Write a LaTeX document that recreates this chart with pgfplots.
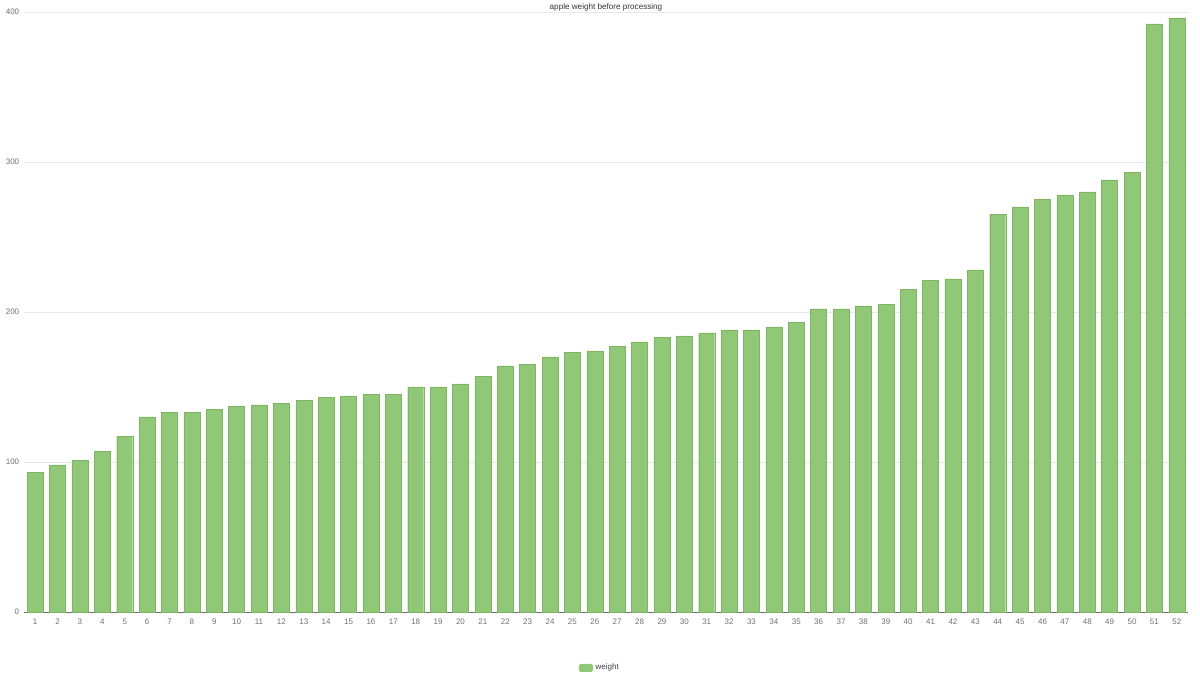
\documentclass[border=0pt]{standalone}
\usepackage{pgfplots}
\pgfplotsset{compat=1.18}
\usepackage{fontspec}
\setmainfont{Liberation Sans}
\definecolor{barg}{HTML}{91C878}
\definecolor{baredge}{HTML}{80B566}
\definecolor{axgray}{HTML}{6E7079}
\definecolor{gridc}{HTML}{E6E8EC}

\begin{document}
\begin{tikzpicture}
\begin{axis}[
    scale only axis, width=873pt, height=450pt,
    ybar, bar width=12pt,
    xmin=0.5, xmax=52.5, ymin=0, ymax=400,
    enlarge x limits=false,
    axis lines*=left,
    axis line style={-, draw=axgray},
    y axis line style={draw=none},
    tick align=outside,
    xtick={1,...,52},
    major x tick style={draw=none},
    extra x ticks={0.5,1.5,...,52.5},
    extra x tick labels={},
    extra x tick style={tick style={draw=axgray, line width=0.4pt}, major tick length=3pt},
    ytick={0,100,200,300,400},
    major y tick style={draw=none},
    ymajorgrids=true,
    grid style={gridc, line width=0.5pt},
    /pgf/number format/assume math mode=true,
    ticklabel style={font=\fontsize{6}{7}\selectfont, text=axgray},
    yticklabel style={xshift=4.2pt},
    xticklabel style={yshift=2.7pt},
    legend style={at={(0.495,-0.0933)}, anchor=center, draw=none,
        font=\fontsize{6}{7}\selectfont, text=black!75,
        legend cell align=left},
    legend image code/.code={\draw[fill=barg, draw=none, rounded corners=1.5pt] (0pt,-3pt) rectangle (10.5pt,3pt);},
]
\addplot[fill=barg, draw=baredge, line width=0.3pt] coordinates {
(1,93)(2,98)(3,101)(4,107)(5,117)(6,130)(7,133)(8,133)(9,135)(10,137)
(11,138)(12,139)(13,141)(14,143)(15,144)(16,145)(17,145)(18,150)(19,150)(20,152)
(21,157)(22,164)(23,165)(24,170)(25,173)(26,174)(27,177)(28,180)(29,183)(30,184)
(31,186)(32,188)(33,188)(34,190)(35,193)(36,202)(37,202)(38,204)(39,205)(40,215)
(41,221)(42,222)(43,228)(44,265)(45,270)(46,275)(47,278)(48,280)(49,288)(50,293)
(51,392)(52,396)
};
\addlegendentry{weight}
\coordinate (O) at (rel axis cs:0,0);
\coordinate (T) at (rel axis cs:0.5,1);
\end{axis}
\node[font=\fontsize{6.1}{7}\selectfont, text=black!80] at ([yshift=3.75pt]T) {apple weight before processing};
\pgfresetboundingbox
\path[use as bounding box] ([xshift=-18pt,yshift=-47.25pt]O) rectangle ++(900pt,506.25pt);
\end{tikzpicture}
\end{document}
